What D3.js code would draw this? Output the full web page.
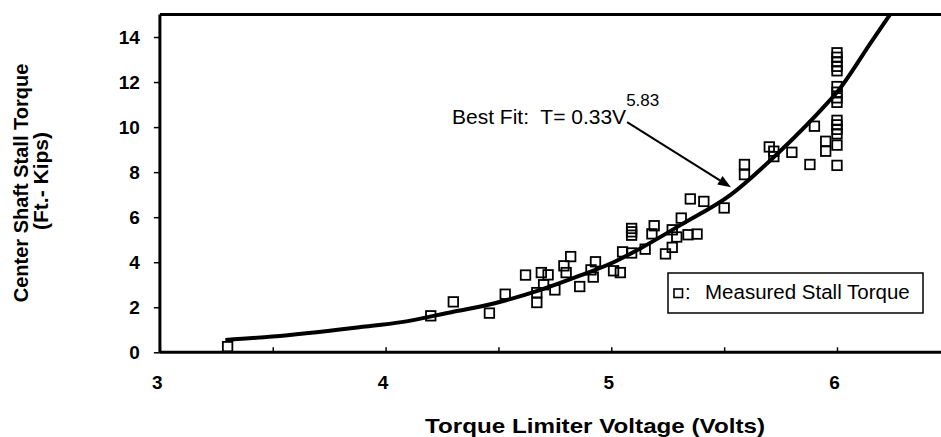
<!DOCTYPE html>
<html><head><meta charset="utf-8">
<script src="https://cdn.jsdelivr.net/npm/d3@7"></script>
<style>
body{margin:0;background:#fff}
svg{display:block}
text{font-family:"Liberation Sans",Arial,Helvetica,sans-serif;fill:#000}
</style>
</head><body><svg id="c" width="941" height="437"></svg>
<script>
// Measured stall torque points (volts, kips)
const voltage = [3.30,4.20,4.30,4.46,4.53,4.62,4.67,4.67,4.69,4.72,4.70,4.75,4.79,4.82,4.80,4.86,4.93,4.91,4.92,5.01,5.04,5.05,5.09,5.09,5.09,5.09,5.15,5.19,5.18,5.24,5.27,5.27,5.29,5.31,5.35,5.41,5.34,5.38,5.50,5.59,5.59,5.70,5.72,5.72,5.80,5.88,5.90,5.95,5.95,6.00,6.00,6.00,6.00,6.00,6.00,6.00,6.00,6.00,6.00,6.00,6.00,6.00,6.00,6.00];
const torque  = [0.25,1.62,2.24,1.74,2.58,3.43,2.65,2.21,3.54,3.44,3.00,2.77,3.84,4.25,3.54,2.92,4.02,3.66,3.34,3.62,3.54,4.46,5.50,5.35,5.20,4.41,4.58,5.62,5.26,4.37,5.44,4.66,5.12,5.96,6.81,6.70,5.22,5.25,6.41,8.34,7.89,9.12,8.93,8.69,8.88,8.34,10.04,9.37,8.93,13.30,13.10,12.90,12.70,12.50,11.80,11.55,11.30,11.10,10.30,10.10,9.90,9.70,9.20,8.30];
// Best-fit curve as drawn
const fitVoltage = [3.29,3.50,3.89,4.07,4.30,4.46,4.53,4.68,4.86,5.01,5.13,5.31,5.53,5.75,5.96,6.00,6.15,6.235];
const fitTorque  = [0.55,0.70,1.12,1.34,1.80,2.12,2.30,2.75,3.40,4.00,4.62,5.67,7.00,8.95,11.10,11.55,13.75,15.00];
const xTickValues = [3,3.5,4,4.5,5,5.5,6,6.5];
const xTickLabels = {3:"3",4:"4",5:"5",6:"6"};
const yTickValues = [0,2,4,6,8,10,12,14];
const xTitle = "Torque Limiter Voltage (Volts)";
const yTitle1 = "Center Shaft Stall Torque";
const yTitle2 = "(Ft.- Kips)";
const legendLabel = "Measured Stall Torque";
const fitLabel = "Best Fit:  T= 0.33V";
const fitExponent = "5.83";
const arrowFrom = [5.07, 10.22];
const arrowTo = [5.53, 7.33];

const svg = d3.select("#c");
const x = d3.scaleLinear().domain([3, 6.5]).range([159.9, 159.9 + 3.5 * 225.7]);
const y = d3.scaleLinear().domain([0, 15]).range([352.3, 14.5]);

// top border
svg.append("line").attr("x1", x(3)).attr("x2", 941).attr("y1", y(15)).attr("y2", y(15))
  .attr("stroke", "#000").attr("stroke-width", 3);

// data squares
const pts = voltage.map((v, i) => [v, torque[i]]);
const sq = 9.5;
svg.append("g").selectAll("rect").data(pts).join("rect")
  .attr("x", d => x(d[0]) - sq / 2).attr("y", d => y(d[1]) - sq / 2)
  .attr("width", sq).attr("height", sq)
  .attr("fill", "none").attr("stroke", "#000").attr("stroke-width", 1.8);

// fit curve
const fit = fitVoltage.map((v, i) => [v, fitTorque[i]]);
svg.append("path").datum(fit)
  .attr("d", d3.line().x(d => x(d[0])).y(d => y(d[1])).curve(d3.curveMonotoneX))
  .attr("fill", "none").attr("stroke", "#000").attr("stroke-width", 4);

// y axis
const yAxis = svg.append("g").attr("transform", `translate(${x(3)},0)`)
  .call(d3.axisLeft(y).tickValues(yTickValues).tickSizeInner(6).tickSizeOuter(0).tickPadding(14).tickFormat(d3.format("d")));
yAxis.select(".domain").attr("stroke-width", 3).attr("d", `M0,${y(15)}V${y(0)}`);
yAxis.selectAll(".tick line").attr("stroke-width", 1.5);
yAxis.selectAll("text").attr("font-size", 19).attr("font-weight", "bold").attr("font-family", "Liberation Sans, Arial, sans-serif");

// x axis
const xAxis = svg.append("g").attr("transform", `translate(0,${y(0)})`)
  .call(d3.axisBottom(x).tickValues(xTickValues).tickSizeInner(-5).tickSizeOuter(0).tickPadding(23)
    .tickFormat(d => xTickLabels[d] || ""));
xAxis.select(".domain").attr("stroke-width", 3).attr("d", `M${x(3)},0H941`);
xAxis.selectAll(".tick line").attr("stroke-width", 1.5);
xAxis.selectAll("text").attr("font-size", 19).attr("font-weight", "bold").attr("dx", -3)
  .attr("font-family", "Liberation Sans, Arial, sans-serif");

// axis titles
svg.append("text").attr("x", 595).attr("y", 433).attr("text-anchor", "middle")
  .attr("font-size", 21).attr("font-weight", "bold")
  .attr("textLength", 340).attr("lengthAdjust", "spacingAndGlyphs").text(xTitle);
svg.append("text").attr("transform", "translate(28,183) rotate(-90)").attr("text-anchor", "middle")
  .attr("font-size", 20).attr("font-weight", "bold").text(yTitle1);
svg.append("text").attr("transform", "translate(48,181) rotate(-90)").attr("text-anchor", "middle")
  .attr("font-size", 21).attr("font-weight", "bold").text(yTitle2);

// annotation
const ann = svg.append("text").attr("x", 452).attr("y", 124).attr("font-size", 21)
  .style("white-space", "pre");
ann.append("tspan").text(fitLabel);
ann.append("tspan").attr("dy", -18).attr("font-size", 17).text(fitExponent);

// arrow
const ax0 = x(arrowFrom[0]), ay0 = y(arrowFrom[1]), ax1 = x(arrowTo[0]), ay1 = y(arrowTo[1]);
const ang = Math.atan2(ay1 - ay0, ax1 - ax0);
const hl = 13, hw = 5;
const bx = ax1 - hl * Math.cos(ang), by = ay1 - hl * Math.sin(ang);
svg.append("line").attr("x1", ax0).attr("y1", ay0).attr("x2", bx).attr("y2", by)
  .attr("stroke", "#000").attr("stroke-width", 2);
svg.append("path").attr("fill", "#000")
  .attr("d", `M${ax1},${ay1}L${bx - hw * Math.sin(ang)},${by + hw * Math.cos(ang)}L${bx + hw * Math.sin(ang)},${by - hw * Math.cos(ang)}Z`);

// legend
const lg = svg.append("g");
lg.append("rect").attr("x", 668).attr("y", 273).attr("width", 255).attr("height", 40)
  .attr("fill", "#fff").attr("stroke", "#000").attr("stroke-width", 1.5);
lg.append("rect").attr("x", 674).attr("y", 289).attr("width", 8.5).attr("height", 8.5)
  .attr("fill", "none").attr("stroke", "#000").attr("stroke-width", 1.6);
lg.append("text").attr("x", 685).attr("y", 299).attr("font-size", 20).text(":");
lg.append("text").attr("x", 705).attr("y", 299).attr("font-size", 20.5).text(legendLabel);
</script>
</body></html>
